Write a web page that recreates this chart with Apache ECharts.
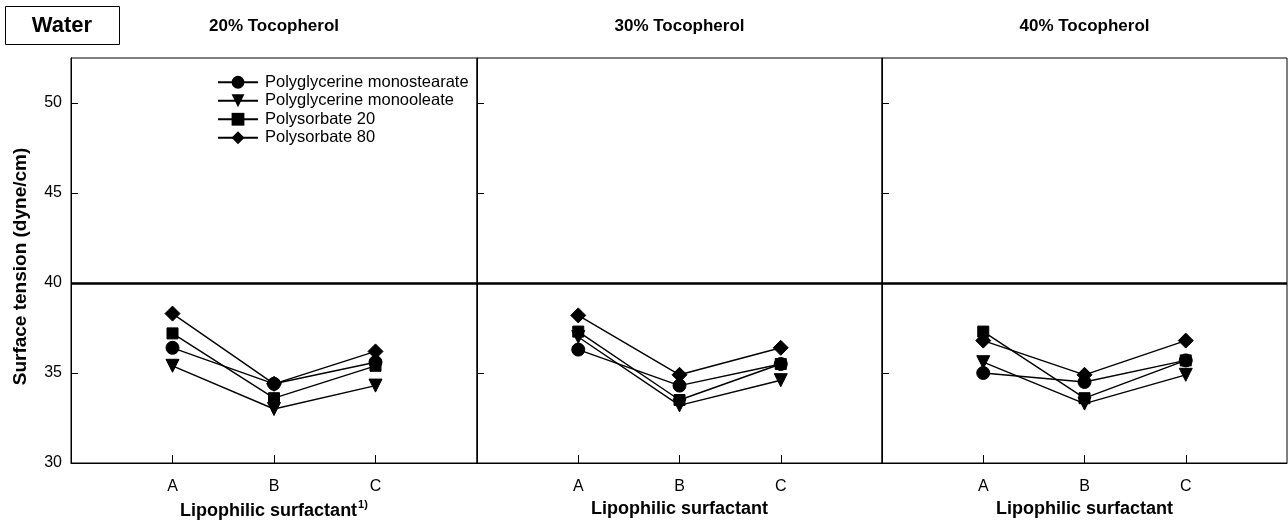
<!DOCTYPE html>
<html>
<head>
<meta charset="utf-8">
<script src="https://cdn.jsdelivr.net/npm/echarts@6/dist/echarts.min.js"></script>
<style>
html,body{margin:0;padding:0;background:#fff;}
#chart{width:1288px;height:525px;}
</style>
</head>
<body>
<div id="chart"></div>
<script>
// ---- data ----
var categories = ['A', 'B', 'C'];
var categoryPositions = [1, 2, 3];
var panelTitles = ['20% Tocopherol', '30% Tocopherol', '40% Tocopherol'];
var seriesNames = ['Polyglycerine monostearate', 'Polyglycerine monooleate', 'Polysorbate 20', 'Polysorbate 80'];
var yTicks = [30, 35, 40, 45, 50];

var toco20_monostearate = [36.4, 34.4, 35.6];
var toco20_monooleate   = [35.4, 33.0, 34.3];
var toco20_ps20         = [37.2, 33.6, 35.4];
var toco20_ps80         = [38.3, 34.4, 36.2];

var toco30_monostearate = [36.3, 34.3, 35.5];
var toco30_monooleate   = [37.0, 33.2, 34.6];
var toco30_ps20         = [37.3, 33.5, 35.5];
var toco30_ps80         = [38.2, 34.9, 36.4];

var toco40_monostearate = [35.0, 34.5, 35.7];
var toco40_monooleate   = [35.6, 33.3, 34.9];
var toco40_ps20         = [37.3, 33.6, 35.7];
var toco40_ps80         = [36.8, 34.9, 36.8];

var waterLine = 40;

// ---- build ----
var panels = [
  [toco20_monostearate, toco20_monooleate, toco20_ps20, toco20_ps80],
  [toco30_monostearate, toco30_monooleate, toco30_ps20, toco30_ps80],
  [toco40_monostearate, toco40_monooleate, toco40_ps20, toco40_ps80]
];
var FONT = '"Liberation Sans", Arial, sans-serif';
var symbols = ['circle', 'triangle', 'rect', 'diamond'];
var symbolSizes = [13, 13, 11, 15];
var symbolRotates = [0, 180, 0, 0];

var gridBoxes = [
  {left: 71, width: 406},
  {left: 477, width: 405},
  {left: 882, width: 405}
];

var grids = [], xAxes = [], yAxes = [], series = [];
gridBoxes.forEach(function (g, gi) {
  grids.push({left: g.left, width: g.width, top: 58, height: 405, show: true,
    borderColor: '#000', borderWidth: 1, containLabel: false});
  xAxes.push({
    type: 'value', gridIndex: gi, min: 0, max: 4, interval: 1,
    axisLine: {show: true, lineStyle: {color: '#000', width: 1}},
    axisTick: {show: true, inside: true, length: 8, customValues: categoryPositions,
      lineStyle: {color: '#000', width: 1}},
    splitLine: {show: false},
    axisLabel: {
      color: '#000', fontFamily: FONT, fontSize: 16, margin: 16,
      customValues: categoryPositions,
      formatter: function (v) { return categories[Math.round(v) - 1] || ''; }
    },
    name: gi === 0 ? '{n|Lipophilic surfactant}{s|1)}' : 'Lipophilic surfactant',
    nameLocation: 'middle', nameGap: 34,
    nameTextStyle: {
      color: '#000', fontFamily: FONT, fontSize: 18, fontWeight: 'bold',
      rich: {
        n: {color: '#000', fontFamily: FONT, fontSize: 18, fontWeight: 'bold', lineHeight: 22},
        s: {color: '#000', fontFamily: FONT, fontSize: 11, fontWeight: 'bold', verticalAlign: 'top', lineHeight: 22, padding: [0, 0, 8, 1]}
      }
    }
  });
  yAxes.push({
    type: 'value', gridIndex: gi, min: 30, max: 52.5, interval: 5,
    axisLine: {show: true, lineStyle: {color: '#000', width: 1}},
    axisTick: {show: true, inside: true, length: 7, customValues: yTicks,
      lineStyle: {color: '#000', width: 1}},
    splitLine: {show: false},
    axisLabel: {show: gi === 0, color: '#000', fontFamily: FONT, fontSize: 16, margin: 9,
      customValues: yTicks},
    name: gi === 0 ? 'Surface tension (dyne/cm)' : '',
    nameLocation: 'middle', nameGap: 41,
    nameTextStyle: {color: '#000', fontFamily: FONT, fontSize: 19, fontWeight: 'bold', padding: [0, 12, 0, 0]}
  });
  panels[gi].forEach(function (vals, si) {
    var s = {
      type: 'line', name: seriesNames[si], xAxisIndex: gi, yAxisIndex: gi,
      data: vals.map(function (v, ci) { return [categoryPositions[ci], v]; }),
      symbol: symbols[si], symbolSize: symbolSizes[si], symbolRotate: symbolRotates[si],
      showAllSymbol: true,
      lineStyle: {color: '#000', width: 1.4},
      itemStyle: {color: '#000', borderColor: '#000'},
      emphasis: {disabled: true},
      animation: false, z: 3
    };
    if (si === 0) {
      s.markLine = {
        silent: true, symbol: ['none', 'none'], label: {show: false},
        lineStyle: {color: '#000', width: 2.5, type: 'solid'},
        data: [{yAxis: waterLine}], animation: false
      };
    }
    series.push(s);
  });
});

var graphics = [
  {type: 'rect', shape: {x: 5.5, y: 6.5, width: 114, height: 38},
   style: {fill: '#fff', stroke: '#000', lineWidth: 1}},
  {type: 'text', x: 62, y: 26, style: {text: 'Water', fill: '#000', font: 'bold 22px ' + FONT,
   textAlign: 'center', textVerticalAlign: 'middle'}}
];
panelTitles.forEach(function (t, i) {
  var g = gridBoxes[i];
  graphics.push({type: 'text', x: g.left + g.width / 2, y: 26,
    style: {text: t, fill: '#000', font: 'bold 17px ' + FONT, textAlign: 'center', textVerticalAlign: 'middle'}});
});

var chart = echarts.init(document.getElementById('chart'), null, {renderer: 'canvas'});
chart.setOption({
  animation: false,
  backgroundColor: '#fff',
  textStyle: {fontFamily: FONT, color: '#000'},
  grid: grids, xAxis: xAxes, yAxis: yAxes, series: series,
  legend: {
    data: seriesNames, orient: 'vertical', left: 212, top: 68,
    itemWidth: 40, itemHeight: 16, itemGap: 0,
    selectedMode: false,
    textStyle: {color: '#000', fontFamily: FONT, fontSize: 16.5, lineHeight: 18.5, padding: [0, 0, 0, 2]}
  },
  graphic: graphics
});
</script>
</body>
</html>
